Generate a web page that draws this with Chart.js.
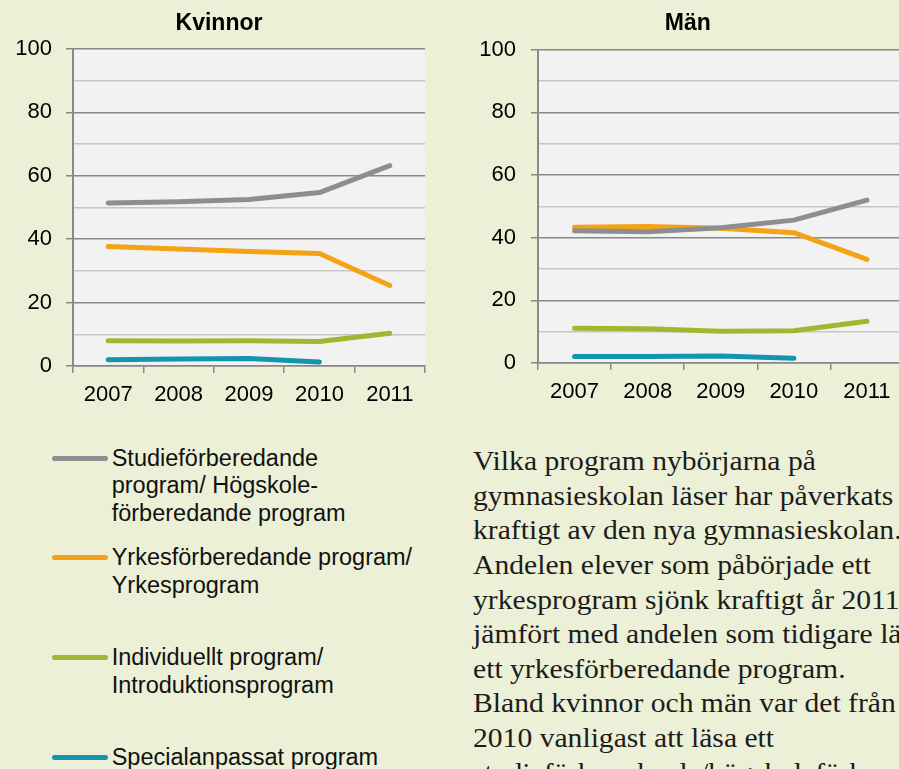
<!DOCTYPE html>
<html>
<head>
<meta charset="utf-8">
<script src="https://cdn.jsdelivr.net/npm/chart.js@4.4.0/dist/chart.umd.min.js"></script>
<style>
html,body{margin:0;padding:0;width:899px;height:769px;overflow:hidden;background:#ECF0D6;}
canvas{position:absolute;top:0;}
#c1{left:13px;}
#c2{left:472px;}
.leg{position:absolute;left:0;width:440px;font-family:"Liberation Sans",Arial,sans-serif;font-size:23.5px;line-height:27.5px;color:#111;}
.leg .ln{position:absolute;left:51.7px;width:56px;height:4.6px;border-radius:2.3px;top:11.2px;}
.leg .lt{position:absolute;left:111.7px;top:0;white-space:nowrap;}
#para{position:absolute;left:473.3px;top:444.3px;font-family:"Liberation Serif","Times New Roman",serif;font-size:27px;line-height:34.6px;color:#1c1c1c;white-space:nowrap;transform:scaleX(1.097);transform-origin:0 0;}
</style>
</head>
<body>
<canvas id="c1" width="420" height="420"></canvas>
<canvas id="c2" width="440" height="420"></canvas>

<div class="leg" style="top:444.8px"><span class="ln" style="background:#8E8E8E"></span><div class="lt">Studieförberedande<br>program/ Högskole-<br>förberedande program</div></div>
<div class="leg" style="top:544.2px"><span class="ln" style="background:#F4A316"></span><div class="lt">Yrkesförberedande program/<br>Yrkesprogram</div></div>
<div class="leg" style="top:644.2px"><span class="ln" style="background:#A3B632"></span><div class="lt">Individuellt program/<br>Introduktionsprogram</div></div>
<div class="leg" style="top:744.2px"><span class="ln" style="background:#1296AF"></span><div class="lt">Specialanpassat program</div></div>

<div id="para">Vilka program nybörjarna på<br>gymnasieskolan läser har påverkats<br>kraftigt av den nya gymnasieskolan.<br>Andelen elever som påbörjade ett<br>yrkesprogram sjönk kraftigt år 2011<br>jämfört med andelen som tidigare läste<br>ett yrkesförberedande program.<br>Bland kvinnor och män var det från<br>2010 vanligast att läsa ett<br>studieförberedande/högskoleförberedande program.</div>

<script>
const years = ['2007', '2008', '2009', '2010', '2011'];
const seriesNames = ['Studieförberedande program/ Högskoleförberedande program', 'Yrkesförberedande program/ Yrkesprogram', 'Individuellt program/ Introduktionsprogram', 'Specialanpassat program'];

const kvStudie   = [51.4, 51.8, 52.5, 54.7, 63.2];
const kvYrkes    = [37.7, 36.9, 36.1, 35.5, 25.4];
const kvIndivid  = [8.0, 7.9, 8.0, 7.7, 10.3];
const kvSpecial  = [2.0, 2.2, 2.4, 1.3, null];

const manStudie  = [42.2, 41.9, 43.2, 45.6, 52.0];
const manYrkes   = [43.3, 43.6, 43.0, 41.6, 33.1];
const manIndivid = [11.1, 10.9, 10.1, 10.3, 13.3];
const manSpecial = [2.1, 2.1, 2.2, 1.5, null];

const colors = ['#8E8E8E', '#F4A316', '#A3B632', '#1296AF'];

const bgPlugin = {
  id: 'plotBg',
  beforeDraw(chart) {
    const a = chart.chartArea, ctx = chart.ctx;
    ctx.save();
    ctx.fillStyle = '#F2F2F2';
    ctx.fillRect(a.left, a.top, a.right - a.left, a.bottom - a.top);
    ctx.restore();
  }
};

function makeChart(id, title, data, opts) {
  const datasets = data.map((d, i) => ({
    label: seriesNames[i],
    data: d,
    borderColor: colors[i],
    backgroundColor: colors[i],
    borderWidth: 5,
    borderCapStyle: 'round',
    borderJoinStyle: 'round',
    pointRadius: 0,
    pointHoverRadius: 0,
    tension: 0,
    spanGaps: false,
    fill: false
  }));
  const font = { family: '"Liberation Sans", Arial, sans-serif', size: 22 };
  return new Chart(document.getElementById(id), {
    type: 'line',
    data: { labels: years, datasets },
    plugins: [bgPlugin],
    options: {
      responsive: false,
      animation: false,
      devicePixelRatio: 1,
      layout: { padding: { left: 0, top: 0, right: opts.padRight, bottom: 0 } },
      plugins: {
        legend: { display: false },
        tooltip: { enabled: false },
        title: {
          display: true,
          text: title,
          color: '#000',
          font: { family: '"Liberation Sans", Arial, sans-serif', size: 23, weight: 'bold' },
          padding: { top: 10, bottom: opts.titlePadBottom }
        }
      },
      scales: {
        x: {
          type: 'category',
          offset: true,
          afterFit: s => { s.height = opts.xHeight; },
          grid: { offset: true, drawOnChartArea: false, drawTicks: true, tickLength: 7, color: '#878787', lineWidth: 1.5 },
          border: { display: true, color: '#878787', width: 1.5 },
          ticks: { color: '#000', font, padding: 9, maxRotation: 0, autoSkip: false }
        },
        y: {
          min: 0, max: 100,
          afterFit: s => { s.width = opts.yWidth; },
          grid: {
            drawTicks: true,
            tickLength: 7,
            lineWidth: 1.5,
            color: c => (c.tick && c.tick.value % 20 === 0) ? '#878787' : '#C6C6C6',
            tickColor: c => (c.tick && c.tick.value % 20 === 0) ? '#878787' : 'rgba(0,0,0,0)'
          },
          border: { display: true, color: '#8A8A8A', width: 2 },
          ticks: {
            stepSize: 10,
            color: '#000',
            font,
            padding: opts.yPad,
            callback: v => (v % 20 === 0 ? String(v) : '')
          }
        }
      }
    }
  });
}

makeChart('c1', 'Kvinnor', [kvStudie, kvYrkes, kvIndivid, kvSpecial],
  { padRight: 8, titlePadBottom: 11.4, xHeight: 54, yWidth: 60, yPad: 14 });
makeChart('c2', 'Män', [manStudie, manYrkes, manIndivid, manSpecial],
  { padRight: 8.5, titlePadBottom: 12.1, xHeight: 57, yWidth: 66, yPad: 15 });
</script>
</body>
</html>
